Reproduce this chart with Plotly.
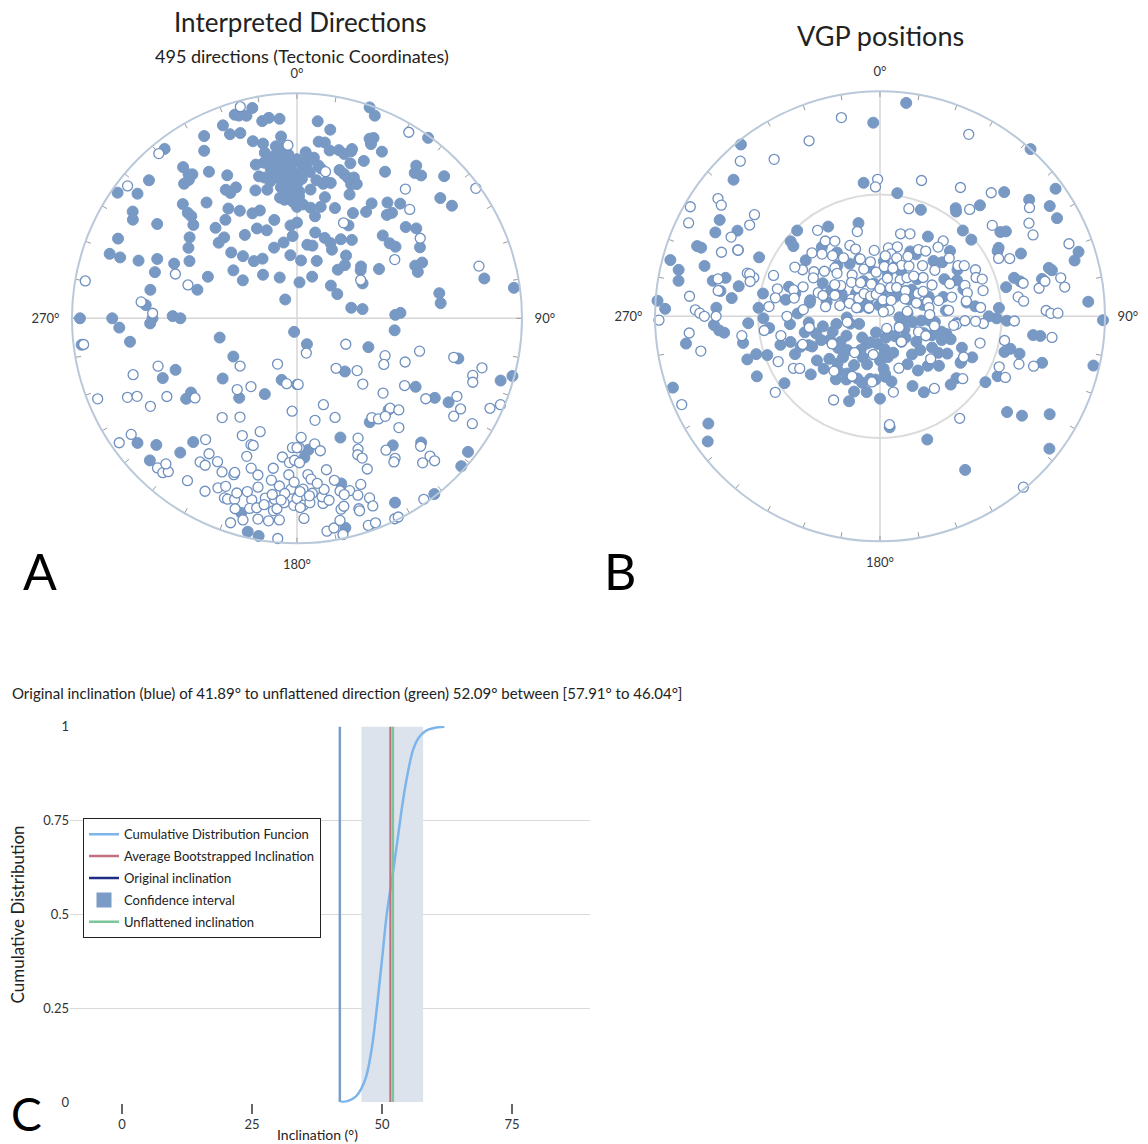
import numpy as np
import plotly.graph_objects as go

# ---------------- Plot A: interpreted directions (declination, inclination) -------------
dirs_nw = [(345,-3),(348,5),(343,6),(344,7),(346,8),(350,12),(352,11),(355,12),(339,9),(340,14),(343,15),(346,20),
 (349,22),(355,20),(357,-24),(355,25),(333,10),(331,16),(322,5),(320,-5),
 (349,26),(350,28),(353,27),(348,30),(351,30),(355,30),
 (345,35),(347,36),(351,36),(354,35),(357,35),(359,36),(358,38),(355,38),(352,37),(349,38),
 (342,40),(347,41),(353,41),(357,41),(360,43),(1,45),(354,46),(358,47),(360,49),(352,45),
 (323,17),(329,25),(334,30),(313,11),(308,-5),(308,11),(305,3),(322,23),(324,22),(323,21),(320,23),
 (331,35),(335,36),(332,37),(315,29),(314,33),(314,35),(312,38),(322,35),
 (303,14),(301,16),(304,26),(294,14),(289,13),(289,18),(290,26),(293,33),(294,40),(290,-42),(288,34),
 (287,-48),(286,52),(281,34),(280,-5),(276,-31),(275,33),(272,-36),(271,44),(270,47),(270,4),(270,19),
 (318,45),(318,50),(314,50),(324,45),(328,42),(307,40),(303,42),(298,45),(295,54),
 (315,56),(319,60),(323,64),(330,65),(307,61),(305,66),(322,70),(337,74),
 (332,45),(337,48),(341,48),(347,53),(336,54),(341,56),(356,56),(357,60),(342,63),(350,62),(328,54),
 (328,82),(354,67),(355,33),(358,32),(357,28),(352,32),(359,40),(350,33),(345,30),(356,44),(353,24)]
dirs_ne = [(19,1),(21,4),(6,13),(10,16),(31,-4),(36,1),(22,15),(23,14),(23,17),(27,18),
 (7,22),(9,22),(11,25),(14,24),(16,25),(18,22),(18,23),(4,30),(6,29),(4,31),(23,25),(19,28),
 (8,32),(11,-34),(9,33),(16,32),(18,33),(22,33),(20,34),(31,25),(38,15),(39,18),(41,17),(46,10),(54,-2),(40,-26),
 (8,38),(12,38),(14,38),(11,39),(2,35),(0,40),(1,43),(22,36),(24,35),(23,40),(33,39),(38,35),(42,32),
 (46,-31),(50,18),(54,16),(13,44),(33,43),(41,39),(42,37),(3,48),(7,49),(12,48),(19,47),(10,52),(26,-51),
 (29,51),(28,46),(50,37),(53,34),(57,-35),(60,37),(46,46),(51,46),(54,45),
 (0,55),(12,58),(19,59),(24,60),(29,57),(35,55),(8,63),(12,63),(27,62),(59,-48),
 (4,69),(19,68),(38,61),(42,64),(40,67),(51,60),(53,61),(59,55),(66,42),(66,39),(69,42),(74,-17),(78,16),
 (59,-63),(62,63),(20,74),(4,77),(46,73),(59,73),(82,3),(80,36),(84,36),(79,70),(82,66),(88,54),(87,52),
 (2,33),(5,35),(0,30),(3,27),(2,38),(6,42)]
dirs_sw = [(267,22),(268,35),(270,36),(263,4),(263,-5),(262,26),(256,61),(192,85),(239,63),(230,-63),
 (251,-35),(247,41),(246,35),(251,-24),(231,55),(203,-72),(194,67),(189,-66),(180,-66),
 (248,-5),(245,-18),(244,-22),(239,-33),(239,-25),(235,42),(234,39),(232,-42),
 (220,-56),(216,54),(214,-60),(203,60),(183,-56),(217,-44),(210,-48),
 (198,-46),(205,-42),(200,-40),(199,-40),(200,-35),
 (235,-4),(235,-11),(232,11),(228,17),(221,22),(220,29),(217,-33),
 (213,-29),(214,-24),(212,-24),(209,-28),(226,10),(223,-10),(221,-10),(220,-12),(222,-14),(214,-14),
 (206,-25),(202,-26),(202,-27),(197,-31),(194,-29),(189,-28),(186,-26),(186,-38),(183,-36),(181,-37),
 (183,-31),(182,-25),(182,-42),(179,-42),
 (202,-15),(201,-15),(199,-16),(198,-12),(194,-18),(194,-14),(192,-15),(190,-20),(187,-20),(187,-15),
 (186,-16),(184,-19),(181,-18),(196,11),(198,-5),(195,-8),(191,-10),(188,-10),(185,-11),(193,3),(190,2),
 (185,-2),(184,-23),(180,-21),(185,-20),(188,-22),(190,-17),(193,-24),(196,-21),(199,-19),(205,-18),
 (208,-14),(203,-20),(181,-28),(189,-33)]
dirs_se = [(97,54),(159,80),(165,-77),(118,-70),(112,62),(113,-55),(118,-54),(112,-47),(105,-43),
 (142,-67),(138,64),(131,-61),(179,-66),(135,-56),(131,-48),(122,-43),(120,39),
 (104,-29),(104,27),(105,-16),(108,-19),(110,-18),(107,6),(105,1),
 (122,-33),(120,30),(119,24),(116,-22),(119,-18),(122,-19),(115,-6),(113,-2),(121,-10),
 (163,-57),(170,-52),(159,-51),(134,-42),(132,-39),(135,42),(143,-44),(141,-42),(138,-41),(145,43),(137,-34),
 (178,-46),(180,-42),(175,41),(177,38),(172,-43),(170,-40),(179,-36),
 (160,43),(153,-40),(155,-36),(156,-34),(155,-32),(143,30),(146,-30),(145,-25),(146,-24),
 (135,23),(136,-22),(136,-16),(136,-13),(139,-16),(128,4),(132,2),(155,-27),
 (169,-32),(176,-31),(175,-29),(178,-25),(175,-23),(178,-18),(176,-19),(172,-18),(172,-21),(171,-24),
 (167,-27),(165,25),(163,-21),(161,-18),(166,-22),(165,-20),(167,-14),(166,-15),(162,-12),(162,-11),
 (158,-15),(158,-11),(159,-22),(167,5),(152,8),(142,1),(145,-2),
 (161,-3),(159,-3),(154,-1),(153,-1),(172,-5),(170,-6),(168,-2),(168,-9),(178,-12),(179,-17),
 (176,-22),(179,-24),(173,-27),(170,-19)]

# ---------------- Plot B: VGP positions (longitude, latitude) -------------
vgp_nw = [(349,-11),(358,15),(338,-17),(321,2),(318,-8),(326,-17),(313,12),(353,40),(359,-39),(358,-42),
 (306,-12),(305,-15),(300,-3),(296,-6),(301,18),(297,19),(301,27),(309,-29),(305,-30),
 (298,-26),(295,-31),(295,31),(292,-25),(316,46),(324,-51),(330,52),(337,-62),(347,55),
 (291,14),(291,16),(286,20),(285,4),(283,9),(280,10),(296,40),(310,47),(309,49),
 (282,25),(284,30),(283,-27),(279,-28),(279,29),(282,36),(288,-38),(287,-41),(288,-39),(285,-40),
 (276,-16),(274,1),(272,5),(272,-19),(273,28),(277,34),(291,-48),
 (324,-56),(329,-58),(313,-56),(317,-59),(322,-62),(328,-65),(341,-68),(350,-70),(301,-57),(304,-61),
 (309,-64),(317,-66),(326,-72),(341,-72),(355,-74),(6,-78),(285,-51),(280,-51),(275,-49),(287,-57),
 (291,-60),(291,-66),(308,-72),(322,-77),(301,-78),(305,-85),
 (307,56),(320,57),(326,62),(330,68),(340,68),(348,72),(4,70),(288,55),(285,58),(280,55),(300,66),
 (298,70),(296,77),(314,78),(320,83),(7,81),(283,64),(281,46),(274,45),
 (275,-62),(280,-70),(285,-75),(290,-68),(295,-72),(300,-62),(305,-70),(310,-80),(315,-68),(320,-74),
 (325,-80),(330,-76),(335,-82),(340,-64),(345,-78),(350,-82),(355,-66),(282,-58),(300,-54),(345,-58),
 (285,70),(300,74),(320,66),(335,76),(350,78),(295,82),(355,86)]
vgp_ne = [(7,5),(26,-11),(42,0),(17,-37),(32,-33),(42,-27),(45,23),(54,4),(8,44),(15,-49),(21,48),(35,41),
 (36,42),(40,-38),(42,34),(52,17),(54,-19),(57,11),(61,11),(58,-23),(62,-24),(51,-36),(55,35),(56,33),
 (44,46),(50,46),(31,56),(40,-54),(69,-11),(72,8),(74,11),(60,39),(61,40),(64,-41),(66,-37),(66,32),
 (74,23),(75,22),(77,27),(80,-29),(78,-26),(78,-19),(81,-18),(86,8),(74,38),(76,36),(77,-35),(77,42),
 (86,46),(82,-38),(84,-36),
 (14,-59),(7,-65),(14,-64),(10,-67),(16,-68),(30,-62),(35,-61),(40,-57),(23,-70),(30,-69),(40,-66),
 (5,-72),(11,-76),(29,-75),(35,-73),(48,-69),(59,-68),(59,-74),(57,-56),(59,-54),(64,-51),(68,-52),
 (70,-50),(70,-57),(75,-57),(75,-63),(76,-51),(73,-72),(80,-72),(56,-86),
 (25,64),(30,64),(44,62),(49,60),(47,55),(59,57),(72,58),(65,59),(60,63),(73,66),(45,77),(50,75),
 (45,71),(27,84),(68,71),(81,58),(84,55),(17,71),(15,80),(38,81),
 (0,-80),(5,-68),(10,-84),(15,-72),(20,-79),(25,-66),(30,-78),(35,-83),(40,-71),(45,-77),(50,-64),
 (55,-79),(60,-72),(65,-62),(70,-76),(75,-68),(80,-80),(85,-65),(88,-72),(20,-58),(50,-57),(80,-58),
 (10,74),(25,72),(40,80),(60,78),(75,74),(85,66)]
vgp_sw = [(269,-2),(271,-21),(270,-23),(270,-28),(267,27),(265,29),(264,31),(262,-38),(259,38),(265,-16),
 (262,14),(259,-20),(251,3),(246,-4),(238,11),(234,6),(267,41),(252,38),(253,42),(244,39),(251,46),
 (246,-49),(234,-42),(235,47),(239,-53),(237,-55),(246,56),(235,62),(227,62),(246,63),(209,-55),
 (217,65),(208,64),(199,61),(195,65),(189,67),(205,-66),(187,-66),(175,69),(175,-50),(175,49),
 (269,47),(264,49),(254,52),(265,57),(272,60),(258,62),(281,64),(248,67),(260,69),(252,72),(237,73),
 (224,73),(256,79),(203,74),(206,79),(194,84),(174,76),(176,71),(222,70),(208,70),(222,67),(249,59),
 (254,56),(248,62),(233,71),(210,66),(200,66),(184,67),
 (263,-47),(259,-53),(270,-56),(261,-64),(293,-78),(215,-74),(308,-85),(290,-81),
 (180,74),(185,80),(190,62),(195,72),(200,80),(210,76),(215,62),(220,80),(230,66),(240,76),(245,70),
 (250,82),(255,66),(260,74),(265,64),(268,78),(200,57),(230,57),(180,60),
 (190,-76),(220,-64),(240,-70),(260,-78),(250,-60)]
vgp_se = [(91,1),(88,-27),(89,-25),(89,-22),(97,32),(97,29),(97,-24),(103,3),(106,26),(108,-29),(109,-35),
 (105,36),(101,-43),(106,42),(104,40),(113,-42),(117,41),(116,-38),(122,44),(127,30),(125,24),(120,14),
 (128,5),(142,-42),(159,41),(151,23),(140,-1),(143,-57),(134,54),(129,54),(127,-52),(105,-52),(85,-53),
 (94,-52),(111,58),(114,53),(119,56),(116,-56),(91,47),(92,43),(92,-40),(90,50),(96,-62),(93,-59),(93,-55),
 (93,83),(103,81),(84,80),(96,75),(95,72),(96,70),(104,67),(105,65),(108,63),(111,66),(121,68),(130,71),
 (140,72),(118,80),(143,81),(172,78),(175,68),(145,66),(136,65),(122,65),(119,62),(130,78),(111,73),
 (155,83),(169,75),(37,-88),(151,-85),(112,-75),(140,-78),(113,-72),(97,-63),
 (95,62),(100,78),(110,70),(115,82),(125,74),(130,62),(140,78),(150,70),(155,62),(160,76),(165,82),
 (170,66),(150,58),(120,56),(100,-70),(130,-66),(160,-70),(170,-62),(120,-82)]

# ---------------- Plot C: inclination-flattening CDF -------------
cdf_incl = [42.0, 43.5, 45, 46, 47, 48, 49, 50, 51, 52, 53, 54, 55, 56, 57, 58, 59, 60, 62]
cdf_prob = [0.0, 0.003, 0.015, 0.035, 0.07, 0.14, 0.25, 0.38, 0.51, 0.6, 0.7, 0.8, 0.88, 0.94, 0.97, 0.985, 0.993, 0.997, 1.0]
original_incl = 41.89
unflattened_incl = 52.09
avg_boot_incl = 51.6
conf_interval = [46.04, 57.91]
x_ticks = [0, 25, 50, 75]
y_ticks = [0, 0.25, 0.5, 0.75, 1]
y_ticktext = ["0", "0.25", "0.5", "0.75", "1"]
ang_ticks = list(range(0, 360, 10))
ang_labels = {0: "0°", 90: "90°", 180: "180°", 270: "270°"}

FONT = "Lato, 'Open Sans', sans-serif"
PT = "#7899c4"
W, H = 1148, 1144
# the photographed page comes out slightly squeezed vertically; map wanted pixel rows to paper rows
Y_OFF, Y_SC = 8.3, 0.985


def yp(y):
    return 1 - ((y - Y_OFF) / Y_SC) / H


fig = go.Figure()


def eq_area(v):
    v = np.abs(np.asarray(v, dtype=float))
    return np.sqrt(2) * np.sin(np.radians(90 - v) / 2)


def add_stereo(groups, subplot):
    dec = np.array([p[0] for g in groups for p in g], dtype=float)
    inc = np.array([p[1] for g in groups for p in g], dtype=float)
    for a in (0, 90):
        fig.add_trace(go.Scatterpolar(r=[1, 0, 1], theta=[a, a, a + 180], mode="lines",
                                      line=dict(color="#d6d6d6", width=1.5), hoverinfo="skip",
                                      showlegend=False, subplot=subplot))
    tr, tt = [], []
    for t in ang_ticks:
        tr += [0.975, 1.0, None]
        tt += [t, t, None]
    fig.add_trace(go.Scatterpolar(r=tr, theta=tt, mode="lines", line=dict(color="#9a9a9a", width=1),
                                  hoverinfo="skip", showlegend=False, subplot=subplot, connectgaps=False))
    down = inc >= 0
    fig.add_trace(go.Scatterpolar(r=eq_area(inc[down]), theta=dec[down], mode="markers",
                                  marker=dict(size=11, color=PT, line=dict(color=PT, width=1)),
                                  showlegend=False, subplot=subplot))
    fig.add_trace(go.Scatterpolar(r=eq_area(inc[~down]), theta=dec[~down], mode="markers",
                                  marker=dict(size=10, color="white", line=dict(color="#6f90bf", width=1.3)),
                                  showlegend=False, subplot=subplot))


add_stereo([dirs_nw, dirs_ne, dirs_sw, dirs_se], "polar")
add_stereo([vgp_nw, vgp_ne, vgp_sw, vgp_se], "polar2")

# ---- plot C traces
fig.add_trace(go.Scatter(x=[conf_interval[0], conf_interval[1], conf_interval[1], conf_interval[0]],
                         y=[0, 0, 1, 1], fill="toself", fillcolor="#dde3ec", line=dict(width=0),
                         mode="lines", showlegend=False, hoverinfo="skip"))
fig.add_trace(go.Scatter(x=[original_incl, original_incl], y=[0, 1], mode="lines",
                         line=dict(color="#7a9cc6", width=2.5), showlegend=False))
fig.add_trace(go.Scatter(x=cdf_incl, y=cdf_prob, mode="lines", line=dict(color="#7cb5ec", width=2.5, shape="spline"),
                         showlegend=False))
fig.add_trace(go.Scatter(x=[avg_boot_incl, avg_boot_incl], y=[0, 1], mode="lines",
                         line=dict(color="#c0707f", width=2), showlegend=False))
fig.add_trace(go.Scatter(x=[unflattened_incl, unflattened_incl], y=[0, 1], mode="lines",
                         line=dict(color="#7cc49a", width=2.5), showlegend=False))
legend_items = [
    ("Cumulative Distribution Funcion", dict(mode="lines", line=dict(color="#7cb5ec", width=2.5))),
    ("Average Bootstrapped Inclination", dict(mode="lines", line=dict(color="#c0707f", width=2.5))),
    ("Original inclination", dict(mode="lines", line=dict(color="#1f2d86", width=2.5))),
    ("Confidence interval", dict(mode="markers", marker=dict(symbol="square", size=15, color="#7a9cc6"))),
    ("Unflattened inclination", dict(mode="lines", line=dict(color="#7cc49a", width=2.5))),
]
for i, (nm, kw) in enumerate(legend_items):
    fig.add_trace(go.Scatter(x=[None], y=[None], name=nm, legendgroup=f"g{i}", **kw))


def polar_layout(cx, cy, R, inner):
    yc = yp(cy)
    return dict(
        domain=dict(x=[(cx - R) / W, (cx + R) / W], y=[yc - R / H, yc + R / H]),
        bgcolor="white",
        radialaxis=dict(range=[0, 1], showticklabels=False, ticks="", showline=False,
                        tickvals=inner, showgrid=bool(inner), gridcolor="#dcdcdc", gridwidth=1.5),
        angularaxis=dict(rotation=90, direction="clockwise", tickvals=ang_ticks,
                         ticktext=[ang_labels.get(t, "") for t in ang_ticks],
                         ticks="outside", ticklen=9, tickcolor="rgba(0,0,0,0)", showgrid=False,
                         linecolor="#b9c9da", linewidth=2,
                         tickfont=dict(size=13, color="#333", family=FONT)),
    )


def ann(text, x, y, size, **kw):
    d = dict(text=text, x=x / W, y=yp(y), xref="paper", yref="paper", showarrow=False,
             xanchor="center", yanchor="middle", font=dict(size=size))
    d.update(kw)
    return d


fig.update_layout(
    width=W, height=H, margin=dict(l=0, r=0, t=0, b=0),
    paper_bgcolor="white", plot_bgcolor="white",
    font=dict(family=FONT, color="#222"),
    polar=polar_layout(297, 318, 228, []),
    polar2=polar_layout(880, 316, 228, [float(eq_area(45))]),
    xaxis=dict(domain=[70 / W, 590 / W], anchor="y", range=[-10, 90], tickvals=x_ticks, ticks="outside",
               ticklen=10, tickwidth=1.5, tickcolor="#666", showgrid=False, zeroline=False, showline=False,
               tickfont=dict(size=13, color="#333")),
    yaxis=dict(domain=[yp(1101), yp(725)], anchor="x", range=[-0.002, 1.002], tickvals=y_ticks,
               ticktext=y_ticktext, gridcolor="#dadada", gridwidth=1, zeroline=False, showline=False,
               tickfont=dict(size=13, color="#333")),
    legend=dict(x=83 / W, y=yp(817), xanchor="left", yanchor="top", bgcolor="white",
                bordercolor="#222", borderwidth=1, font=dict(size=13, color="#222"), tracegroupgap=2,
                itemwidth=30),
    annotations=[
        ann("Interpreted Directions", 300, 22, 26),
        ann("495 directions (Tectonic Coordinates)", 302, 56, 18),
        ann("VGP positions", 880, 36, 27),
        ann("A", 40, 570, 50, font=dict(size=50, color="black")),
        ann("B", 620, 570, 50, font=dict(size=50, color="black")),
        ann("C", 26, 1112, 46, font=dict(size=46, color="black")),
        ann("Original inclination (blue) of 41.89° to unflattened direction (green) 52.09° between [57.91° to 46.04°]",
            10, 692, 15, xanchor="left"),
        ann("Cumulative Distribution", 17, 913, 17, textangle=-90),
        ann("Inclination (°)", 317, 1133, 14),
    ],
)

fig.write_html("out.html", config={"displayModeBar": False},
               post_script="document.body.style.margin='0px';document.body.style.overflow='hidden';")
